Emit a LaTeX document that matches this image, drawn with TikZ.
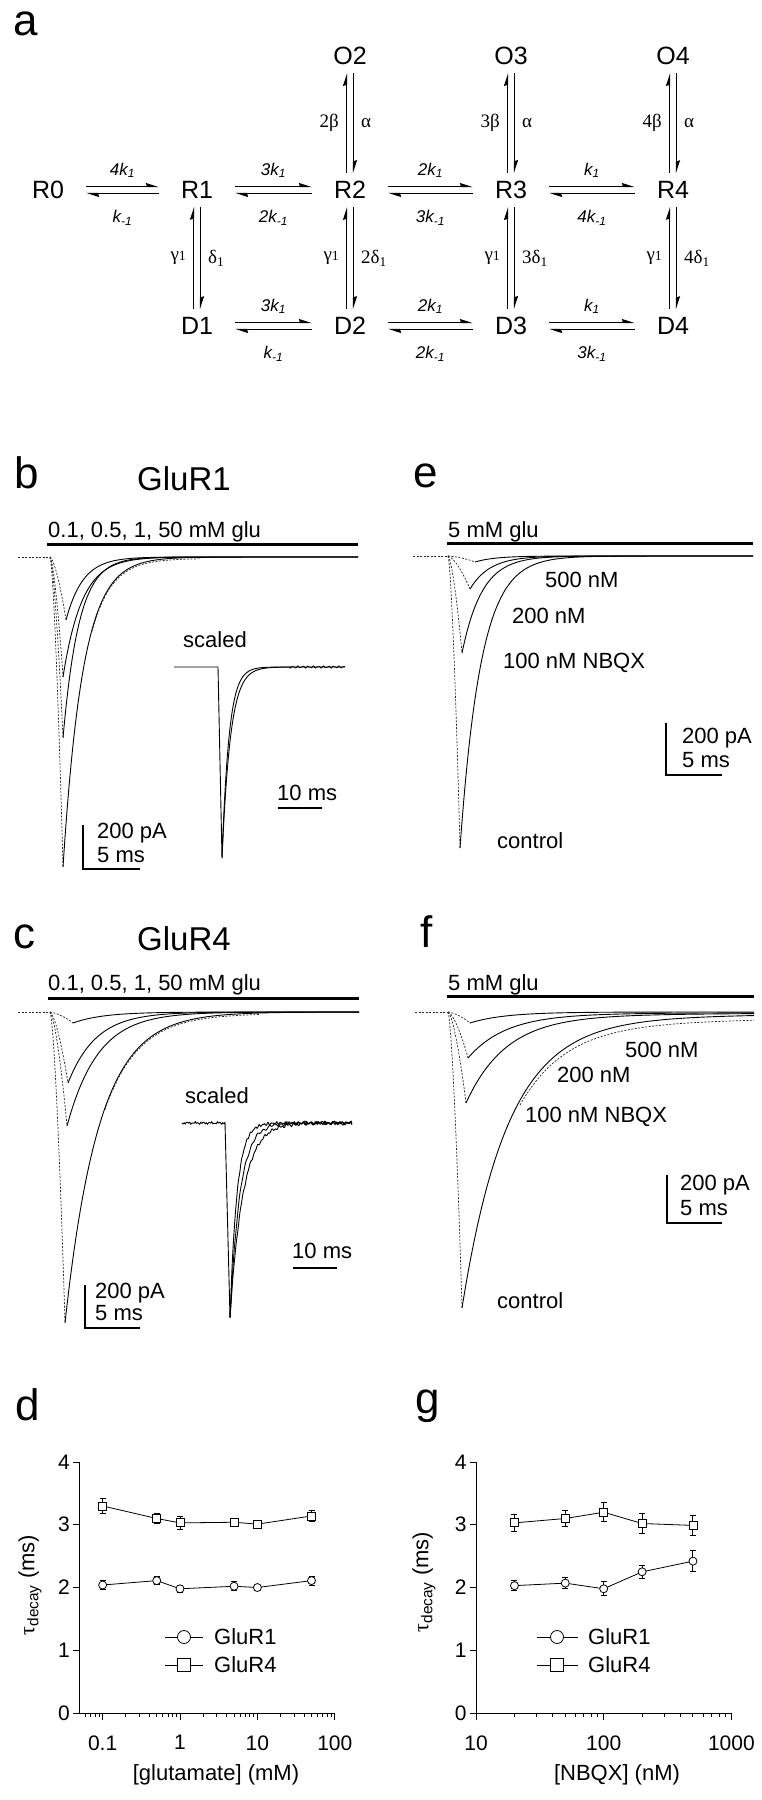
\documentclass[tikz,border=0pt]{standalone}
\usepackage{fontspec}
\setmainfont{Liberation Sans}
\newfontfamily\grkfont{Liberation Serif}
\usetikzlibrary{arrows.meta}

\newcommand{\fsz}[1]{\fontsize{#1}{#1}\selectfont}
\newcommand{\rate}[2]{\textit{#1}\textsubscript{\textit{#2}}}

\tikzset{
  state/.style={font=\fsz{25}, inner sep=0pt},
  fwd/.style={line width=1.2pt, -{Stealth[harpoon,length=11pt,width=7pt,inset=1pt]}},
  hpair/.style={fwd, shorten <=22pt, shorten >=22pt},
  vpair/.style={fwd, shorten <=8pt, shorten >=8pt},
  rate/.style={font={\fsz{17}\itshape}, inner sep=0pt},
  grk/.style={font={\grkfont\fsz{19}}, inner sep=0pt},
  panel/.style={font=\fsz{44}, inner sep=0pt, anchor=base west},
  title/.style={font=\fsz{33}, inner sep=0pt, anchor=base west},
  lbl/.style={font=\fsz{22}, inner sep=0pt, anchor=base west},
  ticklbl/.style={font=\fsz{21}, inner sep=0pt},
  stim/.style={line width=3pt},
  trace/.style={line width=0.9pt},
  rise/.style={line width=0.7pt, black!85, dash pattern=on 2pt off 1.5pt},
  sbar/.style={line width=1.6pt},
  axisline/.style={line width=1pt},
  dline/.style={line width=0.8pt},
  ebar/.style={line width=1pt},
  opencirc/.style={circle, draw, fill=white, line width=0.8pt, inner sep=0pt, minimum size=8pt},
  opensq/.style={rectangle, draw, fill=white, line width=0.8pt, inner sep=0pt, minimum size=8pt},
}

\begin{document}
\begin{tikzpicture}[x=1pt, y=-1pt]
\useasboundingbox (0,0) rectangle (761,1800);

%scheme
\node[panel] (lab-a) at (13,35) {a};
\node[state] (R0) at (48,190) {R0};
\node[state] (R1) at (197,190) {R1};
\node[state] (R2) at (350,190) {R2};
\node[state] (R3) at (511,190) {R3};
\node[state] (R4) at (673,190) {R4};
\node[state] (O2) at (350,56) {O2};
\node[state] (O3) at (511,56) {O3};
\node[state] (O4) at (673,56) {O4};
\node[state] (D1) at (197,326) {D1};
\node[state] (D2) at (350,326) {D2};
\node[state] (D3) at (511,326) {D3};
\node[state] (D4) at (673,326) {D4};

%binding steps
\draw[hpair] ([yshift=3.5pt]R0.east) -- ([yshift=3.5pt]R1.west) node[midway, above=8pt, rate] {\rate{4k}{1}};
\draw[hpair] ([yshift=-3.5pt]R1.west) -- ([yshift=-3.5pt]R0.east) node[midway, below=16pt, rate] {\rate{k}{-1}};
\draw[hpair] ([yshift=3.5pt]R1.east) -- ([yshift=3.5pt]R2.west) node[midway, above=8pt, rate] {\rate{3k}{1}};
\draw[hpair] ([yshift=-3.5pt]R2.west) -- ([yshift=-3.5pt]R1.east) node[midway, below=16pt, rate] {\rate{2k}{-1}};
\draw[hpair] ([yshift=3.5pt]R2.east) -- ([yshift=3.5pt]R3.west) node[midway, above=8pt, rate] {\rate{2k}{1}};
\draw[hpair] ([yshift=-3.5pt]R3.west) -- ([yshift=-3.5pt]R2.east) node[midway, below=16pt, rate] {\rate{3k}{-1}};
\draw[hpair] ([yshift=3.5pt]R3.east) -- ([yshift=3.5pt]R4.west) node[midway, above=8pt, rate] {\rate{k}{1}};
\draw[hpair] ([yshift=-3.5pt]R4.west) -- ([yshift=-3.5pt]R3.east) node[midway, below=16pt, rate] {\rate{4k}{-1}};
\draw[hpair] ([yshift=3.5pt]D1.east) -- ([yshift=3.5pt]D2.west) node[midway, above=8pt, rate] {\rate{3k}{1}};
\draw[hpair] ([yshift=-3.5pt]D2.west) -- ([yshift=-3.5pt]D1.east) node[midway, below=16pt, rate] {\rate{k}{-1}};
\draw[hpair] ([yshift=3.5pt]D2.east) -- ([yshift=3.5pt]D3.west) node[midway, above=8pt, rate] {\rate{2k}{1}};
\draw[hpair] ([yshift=-3.5pt]D3.west) -- ([yshift=-3.5pt]D2.east) node[midway, below=16pt, rate] {\rate{2k}{-1}};
\draw[hpair] ([yshift=3.5pt]D3.east) -- ([yshift=3.5pt]D4.west) node[midway, above=8pt, rate] {\rate{k}{1}};
\draw[hpair] ([yshift=-3.5pt]D4.west) -- ([yshift=-3.5pt]D3.east) node[midway, below=16pt, rate] {\rate{3k}{-1}};

%opening
\draw[vpair] ([xshift=-3.5pt]R2.north) -- ([xshift=-3.5pt]O2.south) node[midway, left=7pt, grk] {2β};
\draw[vpair] ([xshift=3.5pt]O2.south) -- ([xshift=3.5pt]R2.north) node[midway, right=7pt, grk] {α};
\draw[vpair] ([xshift=-3.5pt]R3.north) -- ([xshift=-3.5pt]O3.south) node[midway, left=7pt, grk] {3β};
\draw[vpair] ([xshift=3.5pt]O3.south) -- ([xshift=3.5pt]R3.north) node[midway, right=7pt, grk] {α};
\draw[vpair] ([xshift=-3.5pt]R4.north) -- ([xshift=-3.5pt]O4.south) node[midway, left=7pt, grk] {4β};
\draw[vpair] ([xshift=3.5pt]O4.south) -- ([xshift=3.5pt]R4.north) node[midway, right=7pt, grk] {α};

%desensitization
\draw[vpair] ([xshift=-3.5pt]D1.north) -- ([xshift=-3.5pt]R1.south) node[midway, left=7pt, grk] {γ{\fsz{14}1}};
\draw[vpair] ([xshift=3.5pt]R1.south) -- ([xshift=3.5pt]D1.north) node[midway, right=7pt, grk] {δ\textsubscript{1}};
\draw[vpair] ([xshift=-3.5pt]D2.north) -- ([xshift=-3.5pt]R2.south) node[midway, left=7pt, grk] {γ{\fsz{14}1}};
\draw[vpair] ([xshift=3.5pt]R2.south) -- ([xshift=3.5pt]D2.north) node[midway, right=7pt, grk] {2δ\textsubscript{1}};
\draw[vpair] ([xshift=-3.5pt]D3.north) -- ([xshift=-3.5pt]R3.south) node[midway, left=7pt, grk] {γ{\fsz{14}1}};
\draw[vpair] ([xshift=3.5pt]R3.south) -- ([xshift=3.5pt]D3.north) node[midway, right=7pt, grk] {3δ\textsubscript{1}};
\draw[vpair] ([xshift=-3.5pt]D4.north) -- ([xshift=-3.5pt]R4.south) node[midway, left=7pt, grk] {γ{\fsz{14}1}};
\draw[vpair] ([xshift=3.5pt]R4.south) -- ([xshift=3.5pt]D4.north) node[midway, right=7pt, grk] {4δ\textsubscript{1}};

%b GluR1, glutamate
\node[panel] (lab-b) at (14,488) {b};
\node[title] (glur1) at (137,490) {GluR1};
\node[lbl] (glu-b) at (48,537) {0.1, 0.5, 1, 50 mM glu};
\draw[stim] (47,544) -- (358,544);
\draw[rise] (18,557) -- (50,557);
\draw[rise] (50,557) .. controls (55.6,560) and (63.6,604) .. (66,620);
\draw[trace] plot[domain=66:358, samples=150] (\x,{557+63*exp(max(-9,-(\x-66)/17))});
\draw[rise] (50,557) .. controls (54.5,563) and (61,647) .. (63,677);
\draw[trace] plot[domain=63:358, samples=200] (\x,{557+120*exp(max(-9,-(\x-63)/19))});
\draw[rise] (50,557) .. controls (54.5,566) and (61,693) .. (63,738);
\draw[trace] plot[domain=63:358, samples=200] (\x,{557+181*exp(max(-9,-(\x-63)/16))});
\draw[rise] (50,557) .. controls (54.5,573) and (61,790) .. (63,867);
\draw[trace] plot[domain=63:358, samples=250] (\x,{557+310*exp(max(-9,-(\x-63)/20))});
\draw[rise] plot[domain=92:200, samples=50] (\x,{558.5+310*exp(-(\x-63)/20)});
%scaled inset
\node[lbl] (scaled-b) at (183,647) {scaled};
\draw[trace] (174,667) -- (218,667) -- (222,858) -- plot[domain=222:345, samples=160] (\x,{667+191*exp(max(-9,-(\x-222)/7))});
\draw[trace] (222,858) -- plot[domain=222:345, samples=160] (\x,{667+191*exp(max(-9,-(\x-222)/8.5))+(\x>290)*0.7*(sin(70*(\x-222))+0.6*sin(113*(\x-222)))});
\draw[sbar] (278,808) -- (322,808);
\node[lbl] (tms-b) at (277,800) {10 ms};
\draw[sbar] (83,825) -- (83,869) -- (140,869);
\node[lbl] (pa-b) at (97,838) {200 pA};
\node[lbl] (ms-b) at (97,862) {5 ms};

%c GluR4, glutamate
\node[panel] (lab-c) at (13,948) {c};
\node[title] (glur4) at (137,950) {GluR4};
\node[lbl] (glu-c) at (48,990) {0.1, 0.5, 1, 50 mM glu};
\draw[stim] (48,998) -- (359,998);
\draw[rise] (18,1012) -- (50,1012);
\draw[rise] (50,1012) .. controls (58,1013) and (70,1020) .. (73,1023);
\draw[trace] plot[domain=73:359, samples=120] (\x,{1012+11*exp(max(-9,-(\x-73)/30))});
\draw[rise] (50,1012) .. controls (56.3,1015.5) and (65.3,1065) .. (68,1083);
\draw[trace] plot[domain=68:359, samples=180] (\x,{1012+71*exp(max(-9,-(\x-68)/28))});
\draw[rise] (50,1012) .. controls (56,1018) and (64.5,1097.5) .. (67,1126);
\draw[trace] plot[domain=67:359, samples=180] (\x,{1012+114*exp(max(-9,-(\x-67)/31))});
\draw[rise] (50,1012) .. controls (55.3,1027.5) and (62.8,1245) .. (65,1323);
\draw[trace] plot[domain=65:359, samples=250] (\x,{1012+311*exp(max(-9,-(\x-65)/34))});
\draw[rise] plot[domain=105:260, samples=60] (\x,{1013.5+311*exp(-(\x-65)/34)});
%scaled inset
\node[lbl] (scaled-c) at (185,1103) {scaled};
\draw[trace] plot[domain=182:225, samples=40] (\x,{1123+0.8*sin(130*(\x-182))+0.6*sin(47*(\x-182))}) -- (230,1317);
\draw[trace] (230,1317) -- plot[domain=230:352, samples=160] (\x,{1123+194*exp(max(-9,-(\x-230)/7))+0.9*sin(83*(\x-230))+0.7*sin(121*(\x-230))});
\draw[trace] (230,1317) -- plot[domain=230:352, samples=160] (\x,{1123+194*exp(max(-9,-(\x-230)/10))+1.2*sin(61*(\x-230)+40)+0.8*sin(23*(\x-230))});
\draw[trace] (230,1317) -- plot[domain=230:352, samples=160] (\x,{1123+194*exp(max(-9,-(\x-230)/13))+0.9*sin(47*(\x-230)+90)+0.9*sin(101*(\x-230))});
\draw[sbar] (293,1268) -- (337,1268);
\node[lbl] (tms-c) at (292,1258) {10 ms};
\draw[sbar] (85,1285) -- (85,1328) -- (140,1328);
\node[lbl] (pa-c) at (95,1298) {200 pA};
\node[lbl] (ms-c) at (95,1320) {5 ms};

%e GluR1, NBQX
\node[panel] (lab-e) at (413,487) {e};
\node[lbl] (glu-e) at (448,537) {5 mM glu};
\draw[stim] (447,543) -- (753,543);
\draw[rise] (413,556) -- (448,556);
\draw[rise] (448,556) .. controls (457,556.5) and (471,560) .. (475,562);
\draw[trace] plot[domain=475:753, samples=100] (\x,{556+6*exp(max(-9,-(\x-475)/20))});
\draw[rise] (448,556) .. controls (455.7,557.7) and (466.7,581) .. (470,589);
\draw[trace] plot[domain=470:753, samples=150] (\x,{556+33*exp(max(-9,-(\x-470)/20))});
\draw[rise] (448,556) .. controls (452.9,561) and (459.9,629) .. (462,653);
\draw[trace] plot[domain=462:753, samples=200] (\x,{556+97*exp(max(-9,-(\x-462)/20))});
\draw[rise] (448,556) .. controls (452.2,571) and (458.2,775) .. (460,848);
\draw[trace] plot[domain=460:753, samples=250] (\x,{556+292*exp(max(-9,-(\x-460)/21))});
\node[lbl] (c500-e) at (545,587) {500 nM};
\node[lbl] (c200-e) at (512,623) {200 nM};
\node[lbl] (c100-e) at (503,668) {100 nM NBQX};
\node[lbl] (ctrl-e) at (497,848) {control};
\draw[sbar] (666,723) -- (666,775) -- (722,775);
\node[lbl] (pa-e) at (682,743) {200 pA};
\node[lbl] (ms-e) at (682,767) {5 ms};

%f GluR4, NBQX
\node[panel] (lab-f) at (420,947) {f};
\node[lbl] (glu-f) at (448,990) {5 mM glu};
\draw[stim] (447,996) -- (754,996);
\draw[rise] (415,1012) -- (448,1012);
\draw[rise] (448,1012) .. controls (455.7,1012.5) and (466.7,1020) .. (470,1023);
\draw[trace] plot[domain=470:754, samples=100] (\x,{1012+11*exp(max(-9,-(\x-470)/35))});
\draw[rise] (448,1012) .. controls (455,1014.3) and (465,1046.5) .. (468,1058);
\draw[trace] plot[domain=468:754, samples=150] (\x,{1012+44*exp(max(-9,-(\x-468)/38))+2*exp(-(\x-468)/300)});
\draw[rise] (448,1012) .. controls (454.3,1016.5) and (463.3,1080) .. (466,1103);
\draw[trace] plot[domain=466:754, samples=200] (\x,{1012+87*exp(max(-9,-(\x-466)/40))+4*exp(-(\x-466)/300)});
\draw[rise] (448,1012) .. controls (452.9,1027) and (459.9,1234) .. (462,1308);
\draw[trace] plot[domain=462:754, samples=250] (\x,{1012+288*exp(max(-9,-(\x-462)/46))+8*exp(-(\x-462)/300)});
\draw[rise] plot[domain=520:754, samples=80] (\x,{1013+282*exp(max(-9,-(\x-462)/46))+14*exp(-(\x-462)/400)});
\node[lbl] (c500-f) at (625,1057) {500 nM};
\node[lbl] (c200-f) at (557,1082) {200 nM};
\node[lbl] (c100-f) at (525,1122) {100 nM NBQX};
\node[lbl] (ctrl-f) at (497,1308) {control};
\draw[sbar] (667,1175) -- (667,1223) -- (722,1223);
\node[lbl] (pa-f) at (680,1190) {200 pA};
\node[lbl] (ms-f) at (680,1215) {5 ms};

%d decay vs glutamate
\node[panel] (lab-d) at (15,1420) {d};
\begin{scope}[shift={(180,1713)}, x=77.4pt, y=62.75pt]
  \draw[axisline] (-1.301,4) -- (-1.301,0) -- (2,0);
  \foreach \v in {0,...,4} \draw[axisline] (-1.301,\v) -- ++(-6pt,0) node[left=3pt, ticklbl] (dy-\v) {\v};
  \foreach \k/\t in {-1/0.1, 0/1, 1/10, 2/100} \draw[axisline] (\k,0) -- ++(0,-7pt) node[below=15pt, ticklbl] (dx-\k) {\t};
  \foreach \m in {6,...,9} \draw[axisline] ({-2+log10(\m)},0) -- ++(0,-4pt);
  \foreach \k in {-1,0,1} \foreach \m in {2,...,9} \draw[axisline] ({\k+log10(\m)},0) -- ++(0,-4pt);
  %GluR4
  \draw[dline] (-1,3.3) -- ({log10(0.5)},3.1) -- (0,3.03) -- ({log10(5)},3.04) -- (1,3.01) -- ({log10(50)},3.14);
  \foreach \c/\v/\e [count=\i] in {0.1/3.3/0.12, 0.5/3.1/0.08, 1/3.03/0.1, 5/3.04/0.05, 10/3.01/0.04, 50/3.14/0.08} {
    \draw[ebar] ({log10(\c)},{\v-\e}) -- ({log10(\c)},{\v+\e});
    \draw[ebar] ({log10(\c)},{\v+\e}) ++(-3pt,0) -- ++(6pt,0);
    \draw[ebar] ({log10(\c)},{\v-\e}) ++(-3pt,0) -- ++(6pt,0);
    \node[opensq] (d4-\i) at ({log10(\c)},\v) {};
  }
  %GluR1
  \draw[dline] (-1,2.04) -- ({log10(0.5)},2.11) -- (0,1.98) -- ({log10(5)},2.02) -- (1,2.0) -- ({log10(50)},2.11);
  \foreach \c/\v/\e [count=\i] in {0.1/2.04/0.07, 0.5/2.11/0.06, 1/1.98/0.06, 5/2.02/0.07, 10/2.0/0.04, 50/2.11/0.07} {
    \draw[ebar] ({log10(\c)},{\v-\e}) -- ({log10(\c)},{\v+\e});
    \draw[ebar] ({log10(\c)},{\v+\e}) ++(-3pt,0) -- ++(6pt,0);
    \draw[ebar] ({log10(\c)},{\v-\e}) ++(-3pt,0) -- ++(6pt,0);
    \node[opencirc] (d1-\i) at ({log10(\c)},\v) {};
  }
\end{scope}
\draw[dline] (165,1637) -- (203,1637);
\node[opencirc, minimum size=13pt] (legd-1) at (184,1637) {};
\node[lbl, anchor=west] (legd-1t) at (214,1637) {GluR1};
\draw[dline] (165,1665) -- (203,1665);
\node[opensq, minimum size=13pt] (legd-4) at (184,1665) {};
\node[lbl, anchor=west] (legd-4t) at (214,1665) {GluR4};
\node[lbl, anchor=center] (xlab-d) at (216,1775) {[glutamate] (mM)};
\node[lbl, anchor=center, rotate=90] (ylab-d) at (30,1585) {{\grkfont τ}\textsubscript{decay} (ms)};

%g decay vs NBQX
\node[panel] (lab-g) at (415,1413) {g};
\begin{scope}[shift={(348.3,1713)}, x=127.7pt, y=62.75pt]
  \draw[axisline] (1,4) -- (1,0) -- (3,0);
  \foreach \v in {0,...,4} \draw[axisline] (1,\v) -- ++(-6pt,0) node[left=3pt, ticklbl] (gy-\v) {\v};
  \foreach \k/\t in {1/10, 2/100, 3/1000} \draw[axisline] (\k,0) -- ++(0,-7pt) node[below=15pt, ticklbl] (gx-\k) {\t};
  \foreach \k in {1,2} \foreach \m in {2,...,9} \draw[axisline] ({\k+log10(\m)},0) -- ++(0,-4pt);
  %GluR4
  \draw[dline] ({log10(20)},3.03) -- ({log10(50)},3.1) -- (2,3.2) -- ({log10(200)},3.02) -- ({log10(500)},2.99);
  \foreach \c/\v/\e [count=\i] in {20/3.03/0.13, 50/3.1/0.12, 100/3.2/0.15, 200/3.02/0.16, 500/2.99/0.16} {
    \draw[ebar] ({log10(\c)},{\v-\e}) -- ({log10(\c)},{\v+\e});
    \draw[ebar] ({log10(\c)},{\v+\e}) ++(-3pt,0) -- ++(6pt,0);
    \draw[ebar] ({log10(\c)},{\v-\e}) ++(-3pt,0) -- ++(6pt,0);
    \node[opensq] (g4-\i) at ({log10(\c)},\v) {};
  }
  %GluR1
  \draw[dline] ({log10(20)},2.03) -- ({log10(50)},2.07) -- (2,1.98) -- ({log10(200)},2.25) -- ({log10(500)},2.42);
  \foreach \c/\v/\e [count=\i] in {20/2.03/0.08, 50/2.07/0.09, 100/1.98/0.11, 200/2.25/0.1, 500/2.42/0.17} {
    \draw[ebar] ({log10(\c)},{\v-\e}) -- ({log10(\c)},{\v+\e});
    \draw[ebar] ({log10(\c)},{\v+\e}) ++(-3pt,0) -- ++(6pt,0);
    \draw[ebar] ({log10(\c)},{\v-\e}) ++(-3pt,0) -- ++(6pt,0);
    \node[opencirc] (g1-\i) at ({log10(\c)},\v) {};
  }
\end{scope}
\draw[dline] (537,1637) -- (578,1637);
\node[opencirc, minimum size=13pt] (legg-1) at (557,1637) {};
\node[lbl, anchor=west] (legg-1t) at (588,1637) {GluR1};
\draw[dline] (537,1665) -- (578,1665);
\node[opensq, minimum size=13pt] (legg-4) at (557,1665) {};
\node[lbl, anchor=west] (legg-4t) at (588,1665) {GluR4};
\node[lbl, anchor=center] (xlab-g) at (617,1775) {[NBQX] (nM)};
\node[lbl, anchor=center, rotate=90] (ylab-g) at (424,1582) {{\grkfont τ}\textsubscript{decay} (ms)};

\end{tikzpicture}
\end{document}
